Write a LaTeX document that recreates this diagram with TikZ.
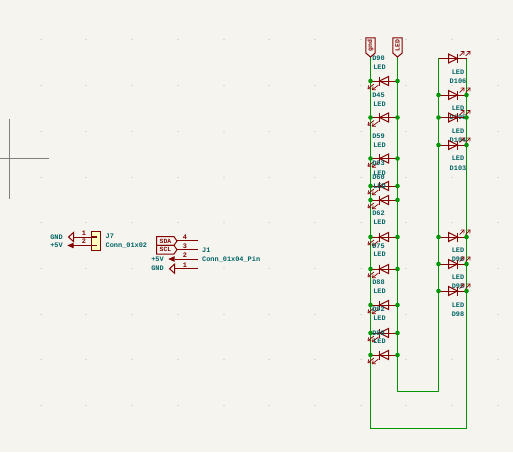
\documentclass[tikz,border=0pt]{standalone}
\usepackage{fontspec}
\setmainfont{Liberation Mono}
\usetikzlibrary{arrows.meta}
\definecolor{sheetbg}{HTML}{F5F4EF}
\definecolor{wirecol}{HTML}{009600}
\definecolor{symcol}{HTML}{840000}
\definecolor{txtcol}{HTML}{006464}
\definecolor{pincol}{HTML}{FFFFC2}
\tikzset{
	wire/.style={draw=wirecol,line width=1.25pt},
	junct/.style={circle,fill=wirecol,inner sep=0pt,minimum size=4.6pt},
	sym/.style={draw=symcol,line width=1pt},
	lightarrow/.style={draw=symcol,line width=0.7pt,-{Straight Barb[length=2.6pt,width=4.4pt]}},
	txt/.style={text=txtcol,font=\fontsize{6.9}{7}\selectfont\bfseries,inner sep=0pt},
	pinnum/.style={text=symcol,font=\fontsize{6.9}{7}\selectfont\bfseries,inner sep=0pt},
	labtxt/.style={text=symcol,font=\fontsize{6.4}{7}\selectfont\bfseries,inner sep=0pt},
	griddot/.style={fill=black!15,draw=none},
	pics/ledleft/.style={code={
		\draw[sym] (-13,0) -- (14,0);
		\draw[sym] (-4,-4.5) -- (-4,4.5);
		\draw[sym] (5,-4.5) -- (5,4.5) -- (-4,0) -- cycle;
		\draw[lightarrow] (-5,4) -- (-11.5,9);
		\draw[lightarrow] (-9.5,3) -- (-16,8);
	}},
	pics/ledright/.style={code={
		\draw[sym] (-14,0) -- (14,0);
		\draw[sym] (5,-4.5) -- (5,4.5);
		\draw[sym] (-4,-4.5) -- (-4,4.5) -- (5,0) -- cycle;
		\draw[lightarrow] (7,-2.5) -- (12,-7.5);
		\draw[lightarrow] (13,-2.5) -- (18,-7.5);
	}},
}
\begin{document}
\begin{tikzpicture}[x=1pt,y=-1pt]
	\fill[sheetbg] (0,0) rectangle (513,452);
	\useasboundingbox (0,0) rectangle (513,452);
	% grid
	\foreach \gx in {41,86,132,178,224,269,315,361,406,452,498}
		\foreach \gy in {40,85,131,177,222,268,314,359,405}
			\fill[griddot] (\gx-1,\gy-0.5) rectangle (\gx+1,\gy+0.5);
	% cursor
	\draw[black!50,line width=0.9pt] (9.5,119) -- (9.5,198.5);
	\draw[black!50,line width=0.9pt] (0,158.5) -- (49,158.5);
	% wires
	\coordinate (gndtop) at (370.5,56);
	\coordinate (ledtop) at (397.5,56);
	\coordinate (botleft) at (370.5,428.5);
	\coordinate (botright) at (466.5,428.5);
	\coordinate (topright) at (466.5,58.5);
	\coordinate (topleft) at (438.5,58.5);
	\coordinate (innerright) at (438.5,391.5);
	\coordinate (innerleft) at (397.5,391.5);
	\draw[wire] (gndtop) -- (botleft) -- (botright) -- (topright) -- (topleft) -- (innerright) -- (innerleft) -- (ledtop);
	% left column of LEDs
	\foreach \y/\ref/\refy/\valy in {81/D90/58.5/67.5,117.5/D45/95/104,158.5/D59/136/145,186/D93/163/173,200/D60/177/186,237/D62/213/222,269/D75/246/254,305/D88/282/291,333/D92/309/318,355/D89/333/341}{
		\pic at (383.5,\y) {ledleft};
		\node[junct] (a\ref) at (370.5,\y) {};
		\node[junct] (k\ref) at (397.5,\y) {};
		\node[txt] (ref\ref) at (378.5,\refy) {\ref};
		\node[txt] (val\ref) at (379.5,\valy) {LED};
	}
	% right column of LEDs
	\pic at (452.5,58.5) {ledright};
	\node[txt] (refD106) at (458,81) {D106};
	\node[txt] (valD106) at (458,72) {LED};
	\foreach \y/\ref/\refy/\valy in {95/D105/117/108.5,117.5/D104/140.5/131,145/D103/168/158,237/D96/259/250,264/D95/286.5/277,291/D98/314/305}{
		\pic at (452.5,\y) {ledright};
		\node[junct] (a\ref) at (438.5,\y) {};
		\node[junct] (k\ref) at (466.5,\y) {};
		\node[txt] (ref\ref) at (458,\refy) {\ref};
		\node[txt] (val\ref) at (458,\valy) {LED};
	}
	% global labels
	\foreach \x/\lab/\nm in {370.5/gnd/gndlab,397.5/LED/ledlab}{
		\draw[sym,fill=sheetbg] (\x-4.7,38) -- (\x+4.7,38) -- (\x+4.7,53) -- (\x,57) -- (\x-4.7,53) -- cycle;
		\node[labtxt,rotate=90] (\nm) at (\x,45.5) {\lab};
	}
	% J7
	\draw[sym] (73,237) -- (91,237);
	\draw[sym] (73,245.5) -- (91,245.5);
	\draw[sym,fill=pincol] (91.3,231.3) rectangle (100.7,250.7);
	\draw[symcol,line width=1.6pt] (91.3,237) -- (97,237);
	\draw[symcol,line width=1.6pt] (91.3,245.5) -- (97,245.5);
	\draw[sym] (73.5,232.5) -- (68.5,237) -- (73.5,241.5) -- cycle;
	\draw[sym,fill=symcol] (73,243.5) -- (68.5,245.5) -- (73,247.5) -- cycle;
	\node[pinnum] (j7a) at (84,233) {1};
	\node[pinnum] (j7b) at (84,241.5) {2};
	\node[txt] (j7gnd) at (56.5,237) {GND};
	\node[txt] (j7pwr) at (56.5,245.5) {+5V};
	\node[txt,anchor=west] (j7ref) at (105.5,236) {J7};
	\node[txt,anchor=west] (j7val) at (105.5,245.5) {Conn\_01x02};
	% J1
	\foreach \y/\n in {240.7/4,249.7/3,259/2,268.7/1}{
		\draw[sym] (174.5,\y) -- (197.5,\y);
		\node[pinnum] (jnum\n) at (185,\y-3.7) {\n};
	}
	\foreach \y/\lab in {241/SDA,249.7/SCL}{
		\draw[sym,fill=sheetbg] (156.5,\y-4.3) -- (174,\y-4.3) -- (177,\y) -- (174,\y+4.3) -- (156.5,\y+4.3) -- cycle;
		\node[labtxt] (lab\lab) at (165.5,\y) {\lab};
	}
	\draw[sym,fill=symcol] (174,257) -- (169.5,259) -- (174,261) -- cycle;
	\draw[sym] (174.5,264.2) -- (169.5,268.7) -- (174.5,273.2) -- cycle;
	\node[txt] (jpwr) at (157.5,259) {+5V};
	\node[txt] (jgnd) at (157.5,268.7) {GND};
	\node[txt,anchor=west] (j1ref) at (202,250) {J1};
	\node[txt,anchor=west] (j1val) at (202,259) {Conn\_01x04\_Pin};
\end{tikzpicture}
\end{document}
